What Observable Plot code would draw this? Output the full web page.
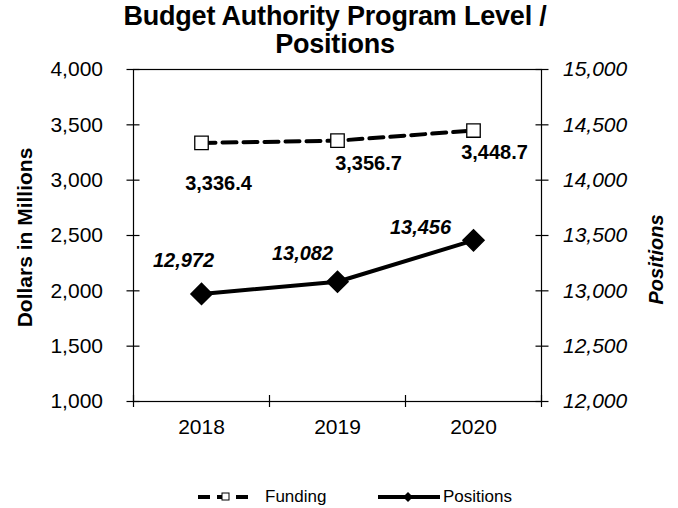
<!DOCTYPE html>
<html>
<head>
<meta charset="utf-8">
<script src="https://cdn.jsdelivr.net/npm/d3@7"></script>
<script src="https://cdn.jsdelivr.net/npm/@observablehq/plot@0.6"></script>
<style>
  html, body { margin: 0; padding: 0; background: #fff; }
  #wrap { position: relative; width: 678px; height: 508px; font-family: "Liberation Sans", Arial, sans-serif; color: #000; }
  #title { position: absolute; left: 0; top: 2px; width: 670px; text-align: center; font-weight: bold; font-size: 27px; line-height: 28px; letter-spacing: -0.2px; }
  #legend { position: absolute; top: 486px; left: 0; width: 678px; height: 22px; font-size: 17px; }
  #legend svg { position: absolute; top: 0; }
  #legend span { position: absolute; top: 1px; }
  #chart { position: absolute; left: 0; top: 0; }
</style>
</head>
<body>
<div id="wrap">
  <div id="chart"></div>
  <div id="title">Budget Authority Program Level /<br>Positions</div>
  <div id="legend">
    <svg width="60" height="22" style="left:196px">
      <line x1="2" y1="11" x2="58" y2="11" stroke="#000" stroke-width="4" stroke-dasharray="12,7"/>
      <rect x="26" y="7" width="7" height="7" fill="#fff" stroke="#000" stroke-width="1"/>
    </svg>
    <span style="left:265px">Funding</span>
    <svg width="66" height="22" style="left:376px">
      <line x1="2" y1="11" x2="64" y2="11" stroke="#000" stroke-width="4"/>
      <path d="M32,6 L37,11 L32,16 L27,11 Z" fill="#000"/>
    </svg>
    <span style="left:443px">Positions</span>
  </div>
</div>
<script>
const years = [2018, 2019, 2020];
const funding = [3336.4, 3356.7, 3448.7];
const positions = [12972, 13082, 13456];
const leftTicks = [1000, 1500, 2000, 2500, 3000, 3500, 4000];
const rightTicks = [12000, 12500, 13000, 13500, 14000, 14500, 15000];
const xBoundaries = [2017.5, 2018.5, 2019.5, 2020.5];

// Right axis maps positions onto the left scale: 12,000 ↔ 1,000 and 15,000 ↔ 4,000
const offset = rightTicks[0] - leftTicks[0];

const fundData = years.map((year, i) => ({year, value: funding[i], label: d3.format(",.1f")(funding[i])}));
const posData = years.map((year, i) => ({year, value: positions[i] - offset, label: d3.format(",")(positions[i])}));

const fundOffsets = [[17, 41], [31, 23], [21, 22]];
const posOffsets = [[-18, -33], [-35, -28], [-53, -13]];

const font = "Liberation Sans, Arial, sans-serif";

const chart = Plot.plot({
  width: 678,
  height: 508,
  marginTop: 69,
  marginBottom: 107,
  marginLeft: 133,
  marginRight: 137,
  x: {domain: [xBoundaries[0], xBoundaries[xBoundaries.length - 1]]},
  y: {domain: [leftTicks[0], leftTicks[leftTicks.length - 1]]},
  style: {fontFamily: font, fontSize: "20px", color: "#000", background: "transparent", overflow: "visible"},
  marks: [
    Plot.frame({stroke: "#000", strokeWidth: 1.2}),
    // x axis: boundary ticks crossing the axis, year labels centered
    Plot.axisX({ticks: xBoundaries, tickSize: 12, dy: -6, tickFormat: () => "", strokeWidth: 1.2, label: null}),
    Plot.axisX({ticks: years, tickSize: 0, tickPadding: 18, tickFormat: d => String(d), fontSize: 21, label: null}),
    // left axis
    Plot.axisY({anchor: "left", ticks: leftTicks, tickSize: 13, dx: 6.5, tickFormat: () => "", strokeWidth: 1.2, label: null}),
    Plot.axisY({anchor: "left", ticks: leftTicks, tickSize: 6.5, tickPadding: 24, tickFormat: d3.format(","), fontSize: 21, strokeOpacity: 0, label: null}),
    // right axis
    Plot.axisY({anchor: "right", ticks: leftTicks, tickSize: 13, dx: -6.5, tickFormat: () => "", strokeWidth: 1.2, label: null}),
    Plot.axisY({anchor: "right", ticks: leftTicks, tickSize: 6.5, tickPadding: 15, tickFormat: d => d3.format(",")(d + offset), fontSize: 21, fontStyle: "italic", strokeOpacity: 0, label: null}),
    // axis titles
    Plot.text(["Dollars in Millions"], {frameAnchor: "left", textAnchor: "middle", dx: -108, dy: 2, rotate: -90, fontWeight: "bold", fontSize: 21}),
    Plot.text(["Positions"], {frameAnchor: "right", textAnchor: "middle", dx: 115, dy: 24, rotate: -90, fontWeight: "bold", fontStyle: "italic", fontSize: 20}),
    // series
    Plot.line(fundData, {x: "year", y: "value", stroke: "#000", strokeWidth: 4, strokeDasharray: "14,7"}),
    Plot.dot(fundData, {x: "year", y: "value", symbol: "square", r: 7.6, fill: "#fff", stroke: "#000", strokeWidth: 1.3}),
    Plot.line(posData, {x: "year", y: "value", stroke: "#000", strokeWidth: 4}),
    Plot.dot(posData, {x: "year", y: "value", symbol: "diamond2", r: 9.5, fill: "#000", stroke: "#000"}),
    // data labels
    ...fundData.map((d, i) => Plot.text([d], {x: "year", y: "value", text: "label", dx: fundOffsets[i][0], dy: fundOffsets[i][1], fontWeight: "bold", fontSize: 20})),
    ...posData.map((d, i) => Plot.text([d], {x: "year", y: "value", text: "label", dx: posOffsets[i][0], dy: posOffsets[i][1], fontWeight: "bold", fontStyle: "italic", fontSize: 20}))
  ]
});
document.getElementById("chart").appendChild(chart);
</script>
</body>
</html>
